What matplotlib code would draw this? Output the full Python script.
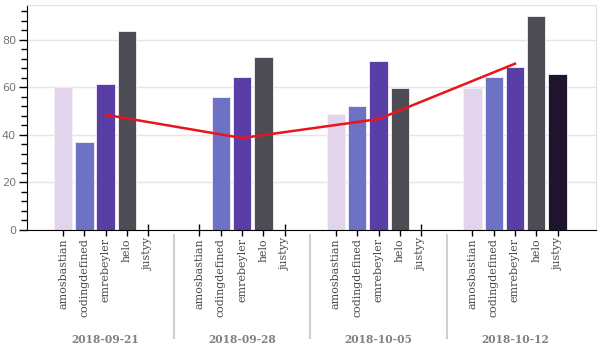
import numpy as np
import matplotlib
matplotlib.use("Agg")
import matplotlib.pyplot as plt
from matplotlib.ticker import MultipleLocator

# ==================== DATA ====================
dates = ["2018-09-21", "2018-09-28", "2018-10-05", "2018-10-12"]
users = ["amosbastian", "codingdefined", "emrebeyler", "helo", "justyy"]

# one list per user, one value per date (0 = no bar)
amosbastian = [60.2, 0, 48.8, 59.8]
codingdefined = [37.0, 56.0, 52.4, 64.4]
emrebeyler = [61.4, 64.2, 71.0, 68.6]
helo = [83.9, 72.8, 59.8, 90.1]
justyy = [0, 0, 0, 65.8]

# red line (one point per date, drawn on the emrebeyler slot)
line_values = [48.5, 38.7, 46.7, 70.0]

user_colors = ["#e2d4ea", "#6e72c4", "#5a3ea8", "#4e4d55", "#1e142c"]

# ==================== LAYOUT ====================
group_pad = 1.4
n_users = len(users)

def factor_x(g, u):
    return g * (n_users + group_pad) + u + 0.5

fig = plt.figure(figsize=(6, 3.5), dpi=100)
ax = fig.add_axes([27 / 600, 1 - 230 / 350, 569 / 600, 225 / 350])

series = [amosbastian, codingdefined, emrebeyler, helo, justyy]
for u, vals in enumerate(series):
    for g, v in enumerate(vals):
        if v > 0:
            ax.bar(factor_x(g, u), v, width=0.86, color=user_colors[u],
                   edgecolor="#f4f0f8", linewidth=0.6, zorder=2)

line_x = [factor_x(g, 2) for g in range(len(dates))]
ax.plot(line_x, line_values, color="#e8141e", linewidth=1.8, zorder=3)

ax.set_xlim(-1.19, 25.5)
ax.set_ylim(0, 94.7)

# y axis
ax.yaxis.set_major_locator(MultipleLocator(20))
ax.yaxis.set_minor_locator(MultipleLocator(4))
ax.tick_params(axis="y", which="major", direction="out", length=6, width=1,
               labelsize=8, labelcolor="#777777", pad=2)
ax.tick_params(axis="y", which="minor", direction="out", length=4, width=1)
for lab in ax.get_yticklabels():
    lab.set_family("DejaVu Sans")

# x axis: factor ticks
xt = [factor_x(g, u) for g in range(len(dates)) for u in range(n_users)]
ax.set_xticks(xt)
ax.set_xticklabels(users * len(dates), rotation=90, family="DejaVu Serif",
                   fontsize=7.9, color="#4a4a4a")
ax.tick_params(axis="x", which="major", direction="inout", length=8, width=1, pad=2)

ax.grid(axis="y", color="#e5e5e5", linewidth=1, zorder=0)
ax.set_axisbelow(True)

for side in ["top", "right"]:
    ax.spines[side].set_color("#e0e0e0")
ax.spines["left"].set_color("black")
ax.spines["bottom"].set_color("black")

# group labels and separators
for g, d in enumerate(dates):
    cx = factor_x(g, 2)
    ax.text(cx, -46, d, transform=ax.transData, ha="center", va="center",
            family="DejaVu Serif", fontweight="bold", fontsize=7.7,
            color="#808080", clip_on=False)
    if g > 0:
        sx = (factor_x(g - 1, n_users - 1) + factor_x(g, 0)) / 2
        ax.plot([sx, sx], [-2, -45.5], color="#d0d0d0", linewidth=1.5,
                clip_on=False)

fig.savefig("out.png", dpi=100)
